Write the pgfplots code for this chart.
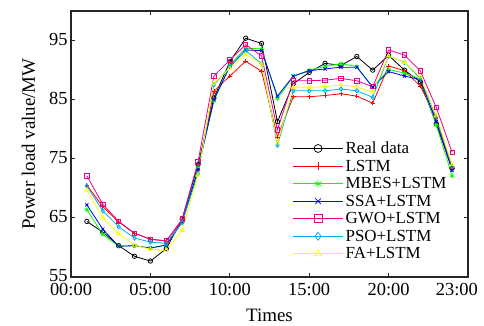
\documentclass[border=0pt]{standalone}
\usepackage{pgfplots}
\pgfplotsset{compat=1.18}
\usepackage{fontspec}
\setmainfont{Liberation Serif}
\definecolor{mgreen}{rgb}{0,1,0}
\definecolor{myellow}{rgb}{1,1,0}
\begin{document}
\begin{tikzpicture}
\begin{axis}[
  scale only axis, width=397bp, height=266bp,
  xmin=0, xmax=25, ymin=55, ymax=100,
  xtick={0,5,10,15,20}, xticklabels={00:00,05:00,10:00,15:00,20:00},
  extra x ticks={24.3}, extra x tick labels={23:00},
  extra x tick style={major tick length=0pt},
  ytick={55,65,75,85,95},
  tick align=inside, major tick length=4bp,
  axis line style={line width=1.3bp, black!85},
  tick style={line width=0.8bp, black!85},
  /pgf/number format/assume math mode=true,
  ticklabel style={font=\fontsize{18.5}{20}\selectfont},
  xticklabel style={yshift=-3bp},
  yticklabel style={yshift=1.5bp},
  xlabel={Times}, ylabel={Power load value/MW},
  label style={font=\fontsize{19}{21}\selectfont},
  xlabel style={yshift=-6bp},
  ylabel style={yshift=7bp},
  legend style={draw=none, fill=none, at={(0.555,0.52)}, anchor=north west,
    font=\fontsize{17}{18}\selectfont, row sep=0.8bp, inner sep=1bp},
  legend cell align=left,
  legend image code/.code={\draw[mark repeat=2,mark phase=2,#1,line width=1.2bp,every mark/.append style={scale=1.8,line width=0.75bp}] plot coordinates {(0cm,0cm) (0.88cm,0cm) (1.76cm,0cm)};},
  every axis plot/.append style={line width=0.8bp, mark size=2.2bp},
]
\coordinate (sw) at (rel axis cs:0,0);
\coordinate (ne) at (rel axis cs:1,1);
\addplot[black, mark=o] coordinates {(1,64.4)(2,62.6)(3,60.3)(4,58.5)(5,57.7)(6,59.8)(7,64.8)(8,74.0)(9,85.3)(10,91.4)(11,95.4)(12,94.5)(13,81.3)(14,87.7)(15,89.6)(16,91.15)(17,90.8)(18,92.3)(19,90.0)(20,92.5)(21,90.0)(22,88.0)(23,80.9)(24,73.4)};
\addlegendentry{Real data}
\addplot[red, mark=+] coordinates {(1,70.5)(2,66.9)(3,64.3)(4,62.4)(5,61.4)(6,61.1)(7,64.5)(8,73.2)(9,86.4)(10,89.0)(11,91.5)(12,89.8)(13,78.7)(14,85.5)(15,85.5)(16,85.7)(17,86.0)(18,85.6)(19,84.4)(20,90.7)(21,89.9)(22,87.3)(23,81.8)(24,73.3)};
\addlegendentry{LSTM}
\addplot[mgreen, mark=asterisk] coordinates {(1,66.4)(2,62.2)(3,60.2)(4,60.3)(5,59.9)(6,60.4)(7,64.3)(8,73.5)(9,84.8)(10,90.9)(11,93.7)(12,93.6)(13,85.2)(14,88.9)(15,90.0)(16,90.6)(17,91.1)(18,90.6)(19,87.1)(20,90.1)(21,89.5)(22,88.5)(23,80.7)(24,72.1)};
\addlegendentry{MBES+LSTM}
\addplot[blue, mark=x] coordinates {(1,67.2)(2,63.1)(3,60.2)(4,60.3)(5,59.9)(6,60.4)(7,64.3)(8,73.2)(9,85.0)(10,90.6)(11,93.4)(12,93.3)(13,85.6)(14,89.0)(15,89.9)(16,90.2)(17,90.5)(18,90.5)(19,87.1)(20,89.75)(21,89.0)(22,88.4)(23,81.3)(24,73.0)};
\addlegendentry{SSA+LSTM}
\addplot[magenta, mark=square] coordinates {(1,72.1)(2,67.3)(3,64.4)(4,62.4)(5,61.4)(6,61.1)(7,64.8)(8,74.5)(9,89.0)(10,91.7)(11,94.3)(12,92.4)(13,79.9)(14,88.2)(15,88.2)(16,88.3)(17,88.6)(18,88.2)(19,87.2)(20,93.4)(21,92.55)(22,89.85)(23,83.7)(24,76.1)};
\addlegendentry{GWO+LSTM}
\addplot[cyan, mark=diamond] coordinates {(1,70.4)(2,66.2)(3,63.5)(4,61.6)(5,60.9)(6,60.7)(7,64.2)(8,72.5)(9,87.5)(10,90.6)(11,93.3)(12,91.1)(13,77.3)(14,86.5)(15,86.5)(16,86.5)(17,86.8)(18,86.5)(19,85.4)(20,92.4)(21,91.3)(22,88.6)(23,82.1)(24,73.7)};
\addlegendentry{PSO+LSTM}
\addplot[myellow, mark=triangle] coordinates {(1,69.7)(2,65.0)(3,62.3)(4,60.4)(5,59.7)(6,59.5)(7,62.9)(8,72.25)(9,87.8)(10,90.3)(11,92.7)(12,91.0)(13,77.7)(14,87.1)(15,87.1)(16,87.2)(17,87.5)(18,87.15)(19,86.3)(20,92.4)(21,91.3)(22,88.85)(23,82.3)(24,74.0)};
\addlegendentry{FA+LSTM}
\end{axis}
\pgfresetboundingbox
\path[use as bounding box] ([shift={(-71bp,-49bp)}]sw) rectangle ([shift={(16bp,11bp)}]ne);
\end{tikzpicture}
\end{document}
